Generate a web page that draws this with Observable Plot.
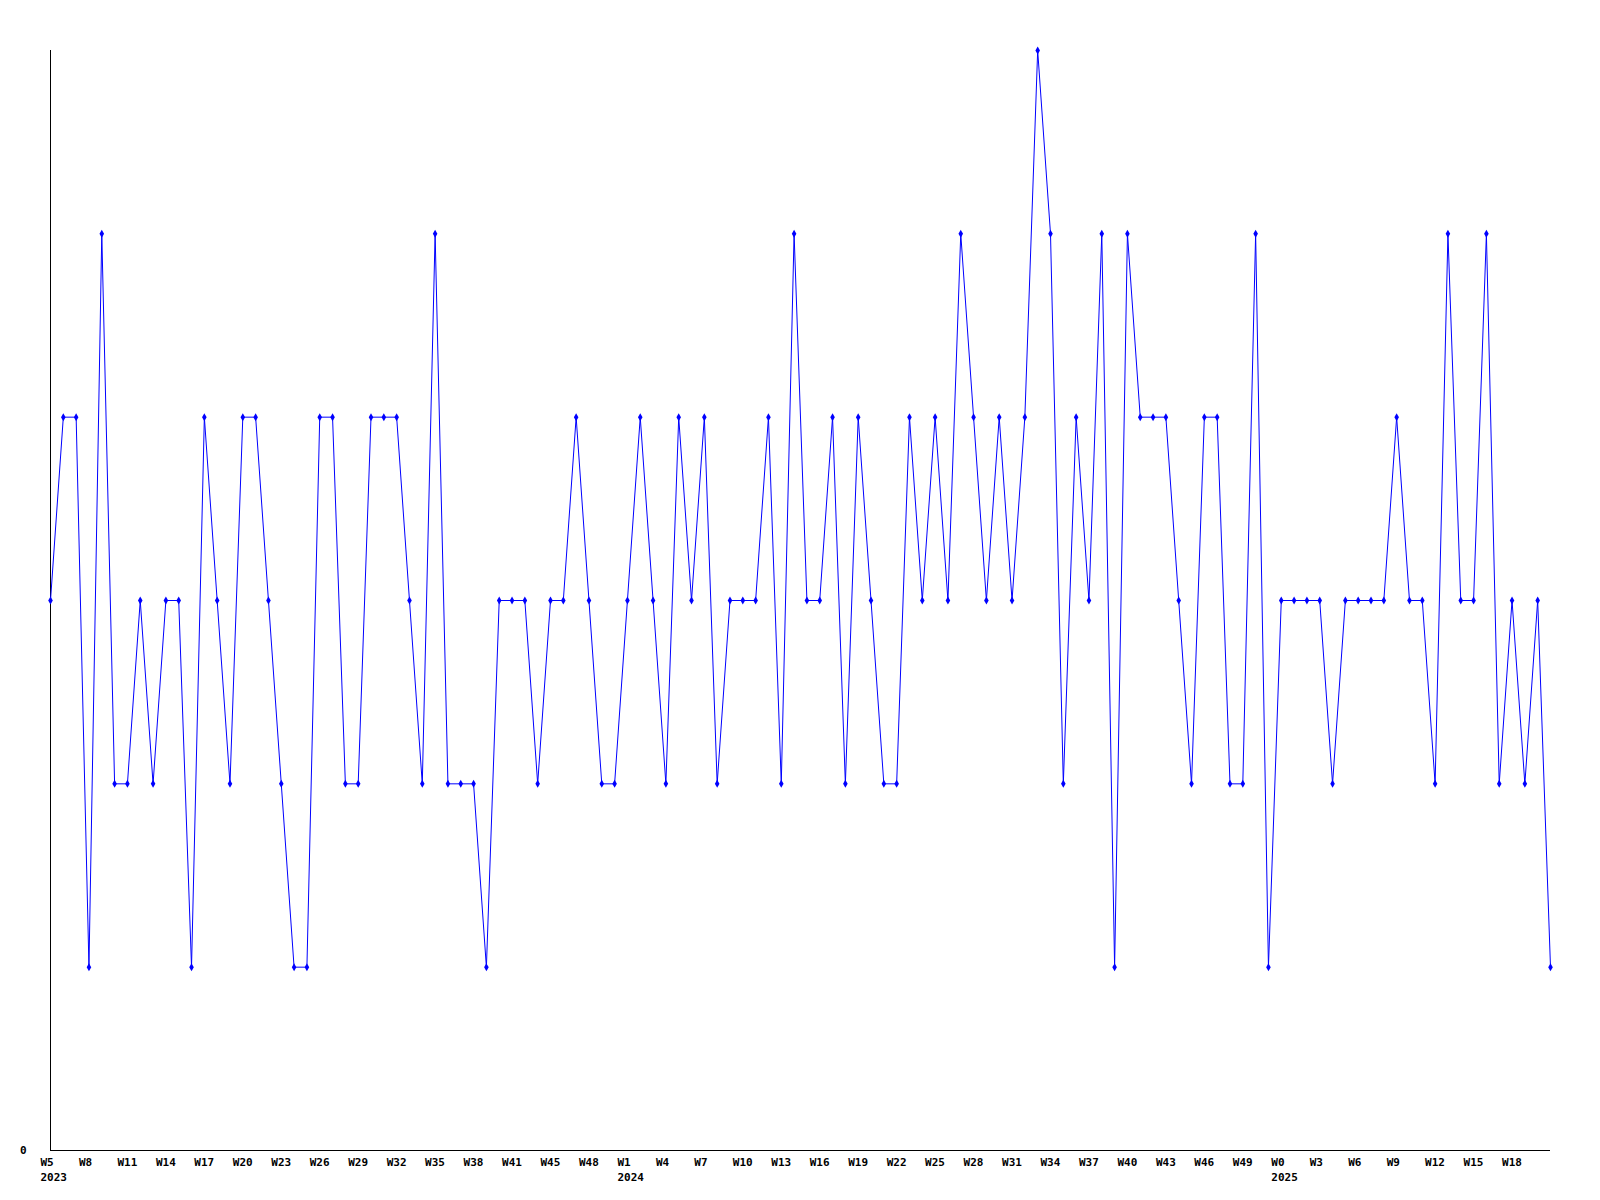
<!DOCTYPE html>
<html>
<head>
<meta charset="utf-8">
<script src="https://cdn.jsdelivr.net/npm/d3@7"></script>
<script src="https://cdn.jsdelivr.net/npm/@observablehq/plot@0.6"></script>
<style>
  html, body { margin: 0; padding: 0; background: #ffffff; }
  #chart svg { display: block; }
</style>
</head>
<body>
<div id="chart"></div>
<script>
// Weekly values, one per category, starting at 2023 W5
const values = [
  3, 4, 4, 1, 5, 2, 2, 3, 2, 3,
  3, 1, 4, 3, 2, 4, 4, 3, 2, 1,
  1, 4, 4, 2, 2, 4, 4, 4, 3, 2,
  5, 2, 2, 2, 1, 3, 3, 3, 2, 3,
  3, 4, 3, 2, 2, 3, 4, 3, 2, 4,
  3, 4, 2, 3, 3, 3, 4, 2, 5, 3,
  3, 4, 2, 4, 3, 2, 2, 4, 3, 4,
  3, 5, 4, 3, 4, 3, 4, 6, 5, 2,
  4, 3, 5, 1, 5, 4, 4, 4, 3, 2,
  4, 4, 2, 2, 5, 1, 3, 3, 3, 3,
  2, 3, 3, 3, 3, 4, 3, 3, 2, 5,
  3, 3, 5, 2, 3, 2, 3, 1
];

// Labels shown on every third week
const tickWeeks = [
  "W5", "W8", "W11", "W14", "W17", "W20", "W23", "W26", "W29", "W32", "W35", "W38", "W41", "W45", "W48",
  "W1", "W4", "W7", "W10", "W13", "W16", "W19", "W22", "W25", "W28", "W31", "W34", "W37", "W40", "W43", "W46", "W49",
  "W0", "W3", "W6", "W9", "W12", "W15", "W18"
];
const years = ["2023", "2024", "2025"];
const tickEvery = 3;

const data = values.map((v, i) => ({i, v}));

// year label goes on the first tick and wherever the week number restarts
const ticks = [];
let yearIdx = 0;
let prevWeek = null;
tickWeeks.forEach((w, k) => {
  const n = +w.slice(1);
  let year = "";
  if (k === 0) year = years[yearIdx];
  else if (n < prevWeek) { yearIdx++; year = years[yearIdx]; }
  prevWeek = n;
  ticks.push({i: k * tickEvery, week: w, year});
});
const yearTicks = ticks.filter(d => d.year !== "");

const font = "DejaVu Sans Mono";

const chart = Plot.plot({
  width: 1600,
  height: 1200,
  marginLeft: 50,
  marginRight: 50,
  marginTop: 50,
  marginBottom: 50,
  x: {domain: [0, values.length - 1], axis: null},
  y: {domain: [0, 6], axis: null},
  style: {background: "#ffffff", fontFamily: font, fontSize: "11px", color: "#000"},
  marks: [
    Plot.ruleY([0], {stroke: "#000", strokeWidth: 1}),
    Plot.ruleX([0], {stroke: "#000", strokeWidth: 1}),
    Plot.line(data, {x: "i", y: "v", stroke: "#0000ff", strokeWidth: 1}),
    Plot.dot(data, {x: "i", y: "v", symbol: "diamond", r: 2.4, fill: "#0000ff", stroke: "none"}),
    Plot.text(ticks, {
      x: "i", y: () => 0, text: "week",
      textAnchor: "start", lineAnchor: "top", dx: -10, dy: 8,
      fontFamily: font, fontSize: 11, fontWeight: "bold", fill: "#000"
    }),
    Plot.text(yearTicks, {
      x: "i", y: () => 0, text: "year",
      textAnchor: "start", lineAnchor: "top", dx: -10, dy: 23,
      fontFamily: font, fontSize: 11, fontWeight: "bold", fill: "#000"
    }),
    Plot.text(["0"], {
      x: () => 0, y: () => 0, text: d => d,
      textAnchor: "end", lineAnchor: "middle", dx: -24, dy: 0,
      fontFamily: font, fontSize: 11, fontWeight: "bold", fill: "#000"
    })
  ]
});

document.getElementById("chart").appendChild(chart);
</script>
</body>
</html>
